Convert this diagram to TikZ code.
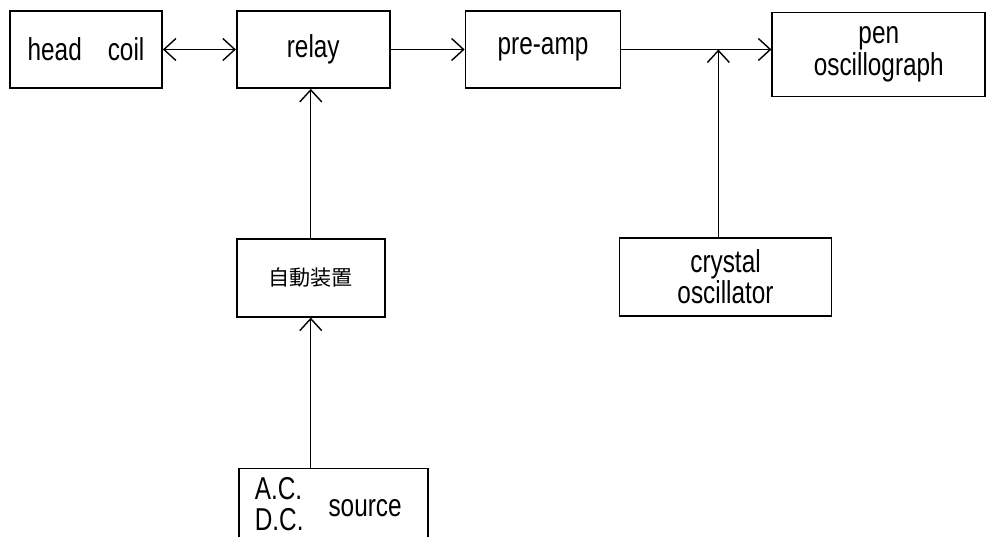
\documentclass[tikz,border=0pt]{standalone}
\usepackage{fontspec}
\setmainfont{Liberation Sans}[FakeStretch=0.77]
\newfontfamily\jpfont{Noto Sans CJK JP}
\usepackage{tikz}
\usetikzlibrary{arrows.meta,positioning}

\begin{document}
\begin{tikzpicture}[
    node distance=2.98cm and 1.46cm,
    box/.style={rectangle,draw,line width=1pt,minimum width=3.04cm,
                minimum height=1.54cm,inner sep=0pt,align=center,
                font=\fontsize{18}{18}\selectfont},
    >={Straight Barb[length=2.4mm,width=4.4mm]},line width=0.8pt
  ]
    \useasboundingbox (0,0) rectangle (19.92,-10.74);
    \node[box] (H) at (1.72,-0.99) {head\hspace{5.2mm}coil};
    \node[box,right=of H,minimum width=3.06cm] (R) {relay};
    \node[box,right=1.48cm of R,minimum width=3.1cm] (P) {pre-amp};
    \node[box,right=3.0cm of P,yshift=-0.1cm,minimum width=4.26cm,
          minimum height=1.68cm] (G) {pen\\oscillograph};
    \node[box,below=of R,xshift=-0.05cm,minimum width=2.96cm,
          minimum height=1.56cm,font=\jpfont\fontsize{12}{14}\selectfont] (A) {自動装置};
    \node[box,below=3.0cm of A,xshift=0.45cm,minimum width=3.78cm,
          minimum height=1.6cm] (S)
          {\begin{tabular}{@{}l@{}}A.C.\\D.C.\end{tabular}\hspace{5mm}source\hspace{2mm}};
    \node[box,below=2.96cm of P,xshift=3.65cm,minimum width=4.24cm,
          minimum height=1.56cm] (X) {crystal\\oscillator};
    \coordinate (J) at ([xshift=1.94cm]P.east);
    \draw[<->] (H) -- (R);
    \draw[->] (R) -- (P);
    \draw[->] (P.east) -- (P.east -| G.west);
    \draw[->] (X.north -| J) -- (J);
    \draw[->] (A) -- (A |- R.south);
    \draw[->] (S.north -| A.south) -- (A.south);
  \end{tikzpicture}
\end{document}
